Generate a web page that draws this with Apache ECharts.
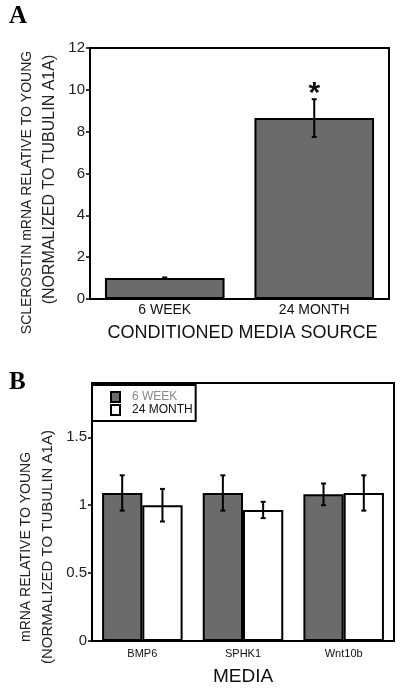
<!DOCTYPE html>
<html><head><meta charset="utf-8">
<script src="https://cdn.jsdelivr.net/npm/echarts@6/dist/echarts.min.js"></script>
<style>html,body{margin:0;padding:0;background:#fff}#c{width:400px;height:690px}</style>
</head><body><div id="c"></div>
<script>
// Panel A
const catsA = ['6 WEEK', '24 MONTH'];
const valsA = [1.0, 8.65];
const errA = [0.03, 0.9];
const sigA = ['', '*'];
// Panel B
const catsB = ['BMP6', 'SPHK1', 'Wnt10b'];
const week6B = [1.09, 1.09, 1.08];
const week6ErrB = [0.13, 0.13, 0.08];
const month24B = [1.0, 0.965, 1.09];
const month24ErrB = [0.12, 0.06, 0.13];
const seriesNamesB = ['6 WEEK', '24 MONTH'];

const FONT = 'Liberation Sans, Arial, sans-serif';

function errRender(offsetFrac, capHalf) {
  return function (params, api) {
    const x = api.value(0), y = api.value(1), e = api.value(2);
    const band = api.size([1, 0])[0];
    const cx = api.coord([x, y])[0] + offsetFrac * band;
    const top = api.coord([x, y + e])[1];
    const bot = api.coord([x, y - e])[1];
    const style = { stroke: '#000', lineWidth: 2 };
    const children = [
      { type: 'line', shape: { x1: cx, y1: top, x2: cx, y2: bot }, style },
      { type: 'line', shape: { x1: cx - capHalf, y1: top, x2: cx + capHalf, y2: top }, style },
      { type: 'line', shape: { x1: cx - capHalf, y1: bot, x2: cx + capHalf, y2: bot }, style }
    ];
    const s = api.value(3);
    if (s) {
      children.push({ type: 'text', style: { text: s, x: cx, y: top + 9, align: 'center', verticalAlign: 'bottom', font: 'bold 30px ' + FONT, fill: '#111' } });
    }
    return { type: 'group', children };
  };
}

const chart = echarts.init(document.getElementById('c'), null, { renderer: 'canvas' });
const axisLine = { show: true, lineStyle: { color: '#000', width: 2 } };
chart.setOption({
  animation: false,
  backgroundColor: '#fff',
  graphic: [
    { type: 'text', left: 9, top: 4, style: { text: 'A', font: 'bold 25px Liberation Serif, serif', fill: '#000' } },
    { type: 'text', left: 9, top: 370, style: { text: 'B', font: 'bold 25px Liberation Serif, serif', fill: '#000' } }
  ],
  grid: [
    { left: 90, right: 11, top: 48, bottom: 391, show: true, borderColor: '#000', borderWidth: 2, backgroundColor: 'transparent' },
    { left: 92, right: 6, top: 383, bottom: 49, show: true, borderColor: '#000', borderWidth: 2, backgroundColor: 'transparent' }
  ],
  legend: {
    data: seriesNamesB,
    orient: 'vertical', left: 92, top: 385, icon: 'rect',
    backgroundColor: '#fff', borderColor: '#000', borderWidth: 2,
    padding: [6, 3, 5, 18], itemGap: 1, itemWidth: 9, itemHeight: 10,
    textStyle: { fontFamily: FONT, fontSize: 12, lineHeight: 12, padding: [0, 0, 0, 7],
      rich: { g: { color: '#888', fontFamily: FONT, fontSize: 12 }, b: { color: '#111', fontFamily: FONT, fontSize: 12 } } },
    formatter: function (n) { return n === '6 WEEK' ? '{g|' + n + '}' : '{b|' + n + '}'; }
  },
  xAxis: [
    { type: 'category', gridIndex: 0, data: catsA, axisLine, axisTick: { show: false },
      axisLabel: { color: '#111', fontFamily: FONT, fontSize: 14, margin: 4 },
      name: 'CONDITIONED MEDIA SOURCE', nameLocation: 'middle', nameGap: 25,
      nameTextStyle: { fontFamily: FONT, fontSize: 18, color: '#111', padding: [0, 0, 0, 6] } },
    { type: 'category', gridIndex: 1, data: catsB, axisLine, axisTick: { show: false },
      axisLabel: { color: '#111', fontFamily: FONT, fontSize: 11, margin: 7 },
      name: 'MEDIA', nameLocation: 'middle', nameGap: 26,
      nameTextStyle: { fontFamily: FONT, fontSize: 19, color: '#111' } }
  ],
  yAxis: [
    { type: 'value', gridIndex: 0, min: 0, max: 12, interval: 2, axisLine,
      axisTick: { show: true, length: 4, lineStyle: { color: '#000', width: 1.5 } },
      splitLine: { show: false },
      axisLabel: { color: '#222', fontFamily: FONT, fontSize: 15, margin: 5 },
      name: '{a|SCLEROSTIN mRNA RELATIVE TO YOUNG}\n{b|(NORMALIZED TO TUBULIN A1A)}', nameLocation: 'middle', nameGap: 26, nameRotate: 90,
      nameTextStyle: { fontFamily: FONT, fontSize: 14, color: '#222', padding: [0, 12, 0, 0],
        rich: { a: { fontFamily: FONT, fontSize: 14, lineHeight: 22, color: '#222', padding: [0, 26, 0, 0] },
                b: { fontFamily: FONT, fontSize: 16, lineHeight: 22, color: '#222' } } } },
    { type: 'value', gridIndex: 1, min: 0, max: 1.9, interval: 0.5, axisLine,
      axisTick: { show: true, length: 4, lineStyle: { color: '#000', width: 1.5 } },
      splitLine: { show: false },
      axisLabel: { color: '#222', fontFamily: FONT, fontSize: 15, margin: 5, showMaxLabel: false },
      name: '{a|mRNA RELATIVE TO YOUNG}\n{b|(NORMALIZED TO TUBULIN A1A)}', nameLocation: 'middle', nameGap: 26, nameRotate: 90,
      nameTextStyle: { fontFamily: FONT, fontSize: 14, color: '#222', padding: [0, 70, 0, 0],
        rich: { a: { fontFamily: FONT, fontSize: 14, lineHeight: 22, color: '#222' },
                b: { fontFamily: FONT, fontSize: 15, lineHeight: 22, color: '#222' } } } }
  ],
  series: [
    { name: 'A', type: 'bar', xAxisIndex: 0, yAxisIndex: 0, data: valsA, barCategoryGap: '20%',
      itemStyle: { color: '#6b6b6b', borderColor: '#000', borderWidth: 2 } },
    { type: 'custom', xAxisIndex: 0, yAxisIndex: 0, z: 5,
      data: valsA.map((v, i) => [i, v, errA[i], sigA[i]]),
      encode: { x: 0, y: 1 }, renderItem: errRender(0, 2.5) },
    { name: seriesNamesB[0], type: 'bar', xAxisIndex: 1, yAxisIndex: 1, data: week6B, barGap: 0, barCategoryGap: '20%',
      itemStyle: { color: '#6b6b6b', borderColor: '#000', borderWidth: 2 } },
    { name: seriesNamesB[1], type: 'bar', xAxisIndex: 1, yAxisIndex: 1, data: month24B, barGap: 0, barCategoryGap: '20%',
      itemStyle: { color: '#fff', borderColor: '#000', borderWidth: 2 } },
    { type: 'custom', xAxisIndex: 1, yAxisIndex: 1, z: 5,
      data: week6B.map((v, i) => [i, v, week6ErrB[i], '']),
      encode: { x: 0, y: 1 }, renderItem: errRender(-0.2, 2.5) },
    { type: 'custom', xAxisIndex: 1, yAxisIndex: 1, z: 5,
      data: month24B.map((v, i) => [i, v, month24ErrB[i], '']),
      encode: { x: 0, y: 1 }, renderItem: errRender(0.2, 2.5) }
  ]
});
</script></body></html>
